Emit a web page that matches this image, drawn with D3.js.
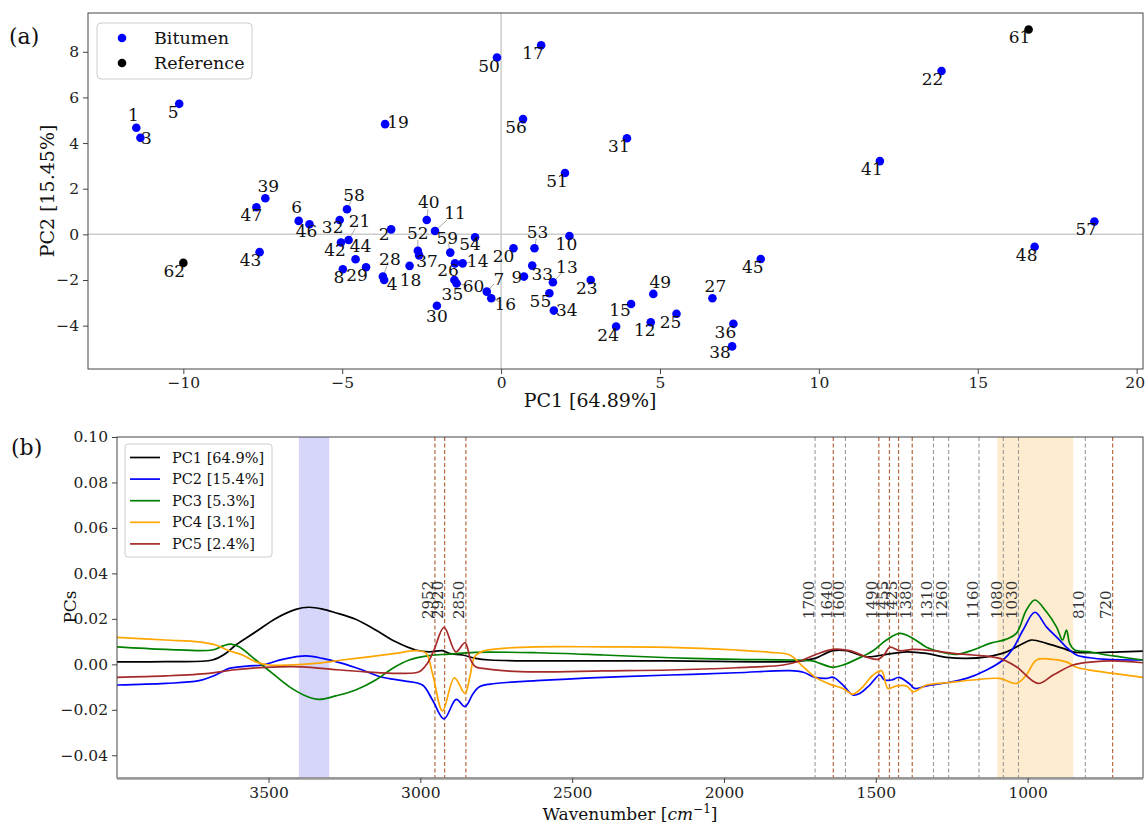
<!DOCTYPE html>
<html><head><meta charset="utf-8">
<script src="https://cdn.jsdelivr.net/npm/d3@7"></script>
<style>body{margin:0;background:#fff}svg{display:block}text{font-family:"DejaVu Serif",serif}</style>
</head><body><svg id="c" width="1145" height="825"></svg>
<script>
// ---------- Panel (a) data: PCA scores ----------
const sampleIds = [1,2,3,4,5,6,7,8,9,10,11,12,13,14,15,16,17,18,19,20,21,22,23,24,25,26,27,28,29,30,31,32,33,34,35,36,37,38,39,40,41,42,43,44,45,46,47,48,49,50,51,52,53,54,55,56,57,58,59,60,61,62];
const pc1Scores = [-11.48,-3.46,-11.35,-3.68,-10.13,-6.37,-0.45,-4.98,0.72,2.15,-2.08,4.71,1.63,-1.21,4.09,-0.31,1.26,-2.88,-3.65,0.39,-4.80,13.86,2.82,3.62,5.52,-1.45,6.65,-3.72,-4.25,-2.02,3.96,-5.08,0.98,1.66,-1.47,7.31,-2.58,7.27,-7.42,-2.34,11.92,-5.04,-7.60,-4.58,8.17,-6.03,-7.70,16.79,4.79,-0.13,2.01,-2.62,1.05,-0.82,1.52,0.69,18.67,-4.85,-1.60,-1.40,16.60,-10.00];
const pc2Scores = [4.67,0.22,4.23,-2.00,5.72,0.59,-2.51,-1.53,-1.85,-0.07,0.15,-3.85,-2.10,-1.27,-3.05,-2.80,8.29,-1.38,4.83,-0.61,-0.25,7.16,-2.00,-4.04,-3.48,-1.27,-2.80,-1.85,-1.44,-3.13,4.21,0.63,-1.37,-3.34,-2.00,-3.92,-0.92,-4.91,1.58,0.63,3.21,-0.36,-0.78,-1.09,-1.08,0.44,1.19,-0.54,-2.61,7.75,2.69,-0.72,-0.61,-0.13,-2.58,5.05,0.56,1.10,-0.80,-2.15,8.98,-1.25];
const groups = sampleIds.map(d => d >= 61 ? "Reference" : "Bitumen");
const groupNames = ["Bitumen","Reference"];
const groupColors = {"Bitumen":"#0000ff","Reference":"#000000"};
// label offsets in px (layout, from adjusted text placement)
const labelOffsets = [[-3,-13],[-7,5],[6,0],[8,4],[-6,8],[-2,-14],[12,-13],[-4,8],[-7,0],[-3,8],[20,-18],[-6,8],[14,-15],[15,-2],[-11,6],[14,6],[-8,8],[1,14],[13,-2],[-10,8],[11,-19],[-9,8],[-4,8],[-8,8],[-6,8],[-7,7],[3,-12],[7,-18],[-9,8],[0,10],[-8,8],[-7,7],[10,8],[13,-1],[-2,14],[-8,8],[8,6],[-12,6],[3,-12],[2,-18],[-8,8],[-6,7],[-9,8],[5,-13],[-8,8],[-3,7],[-5,8],[-8,8],[7,-12],[-8,8],[-8,8],[0,-18],[3,-16],[-5,7],[-9,8],[-7,8],[-8,7],[7,-14],[-3,-15],[17,3],[-9,8],[-9,8]];
const xTicksA = [-10,-5,0,5,10,15,20];
const yTicksA = [-4,-2,0,2,4,6,8];

// ---------- Panel (b) data: loadings [wavenumber, value] ----------
const pcNames = ["PC1 [64.9%]","PC2 [15.4%]","PC3 [5.3%]","PC4 [3.1%]","PC5 [2.4%]"];
const pcColors = ["#000000","#0000ff","#008000","#ffa500","#a52a2a"];
const pc1Load = [[4000,0.0011],[3840,0.0012],[3685,0.0019],[3641,0.0048],[3608,0.0085],[3542,0.0143],[3476,0.0202],[3410,0.0242],[3367,0.0251],[3322,0.0243],[3279,0.0227],[3213,0.0198],[3147,0.0151],[3081,0.0099],[3015,0.0063],[2971,0.0055],[2927,0.0060],[2905,0.0048],[2861,0.0041],[2818,0.0026],[2771,0.0019],[2618,0.0015],[2178,0.0015],[1849,0.0011],[1750,0.0014],[1701,0.0026],[1641,0.0060],[1597,0.0060],[1531,0.0033],[1465,0.0044],[1399,0.0055],[1333,0.0048],[1267,0.0031],[1201,0.0026],[1135,0.0033],[1069,0.0055],[1025,0.0085],[987,0.0107],[938,0.0092],[883,0.0070],[850,0.0055],[784,0.0051],[696,0.0055],[620,0.0058]];
const pc2Load = [[4000,-0.0091],[3839,-0.0084],[3729,-0.0072],[3674,-0.0047],[3630,-0.0018],[3564,-0.0007],[3520,-0.0003],[3454,0.0022],[3377,0.0037],[3322,0.0026],[3257,0.0004],[3191,-0.0025],[3125,-0.0057],[3059,-0.0072],[2993,-0.0091],[2960,-0.0157],[2922,-0.0240],[2882,-0.0154],[2853,-0.0186],[2826,-0.0128],[2804,-0.0098],[2771,-0.0087],[2618,-0.0072],[2398,-0.0057],[2178,-0.0047],[1959,-0.0037],[1783,-0.0028],[1739,-0.0035],[1701,-0.0057],[1662,-0.0062],[1641,-0.0057],[1608,-0.0091],[1575,-0.0135],[1553,-0.0128],[1520,-0.0091],[1487,-0.0047],[1471,-0.0069],[1448,-0.0069],[1423,-0.0057],[1388,-0.0087],[1372,-0.0106],[1333,-0.0095],[1267,-0.0081],[1201,-0.0062],[1135,-0.0025],[1081,0.0019],[1048,0.0070],[1015,0.0151],[976,0.0229],[938,0.0165],[900,0.0114],[872,0.0075],[839,0.0041],[795,0.0029],[740,0.0022],[620,0.0019]];
const pc3Load = [[4000,0.0077],[3839,0.0066],[3685,0.0063],[3652,0.0080],[3624,0.0089],[3597,0.0077],[3542,0.0019],[3487,-0.0040],[3432,-0.0098],[3377,-0.0139],[3334,-0.0154],[3279,-0.0139],[3213,-0.0113],[3147,-0.0069],[3092,-0.0018],[3037,0.0019],[2971,0.0038],[2905,0.0045],[2818,0.0053],[2618,0.0051],[2398,0.0041],[2178,0.0029],[1959,0.0022],[1783,0.0019],[1706,0.0014],[1684,0.0004],[1641,-0.0013],[1608,-0.0003],[1558,0.0026],[1509,0.0060],[1465,0.0107],[1421,0.0136],[1377,0.0114],[1333,0.0075],[1289,0.0055],[1234,0.0044],[1180,0.0063],[1124,0.0092],[1069,0.0111],[1037,0.0136],[1004,0.0239],[976,0.0283],[938,0.0231],[905,0.0165],[885,0.0107],[872,0.0151],[861,0.0090],[845,0.0063],[795,0.0055],[740,0.0041],[696,0.0033],[620,0.0019]];
const pc4Load = [[4000,0.0119],[3839,0.0107],[3729,0.0099],[3674,0.0085],[3630,0.0060],[3586,0.0041],[3542,0.0011],[3498,-0.0003],[3432,-0.0003],[3345,0.0004],[3257,0.0019],[3169,0.0033],[3081,0.0048],[3015,0.0060],[2982,0.0050],[2960,-0.0040],[2927,-0.0205],[2888,-0.0060],[2853,-0.0128],[2837,-0.0055],[2821,0.0033],[2794,0.0058],[2728,0.0070],[2618,0.0077],[2398,0.0077],[2178,0.0075],[1959,0.0063],[1849,0.0053],[1783,0.0041],[1745,-0.0003],[1701,-0.0055],[1652,-0.0087],[1608,-0.0106],[1575,-0.0131],[1542,-0.0098],[1509,-0.0047],[1481,-0.0028],[1460,-0.0106],[1432,-0.0095],[1399,-0.0095],[1377,-0.0120],[1333,-0.0091],[1267,-0.0081],[1180,-0.0069],[1092,-0.0062],[1037,-0.0084],[1004,-0.0047],[971,0.0019],[916,0.0022],[872,0.0011],[839,-0.0013],[784,-0.0028],[718,-0.0040],[620,-0.0057]];
const pc5Load = [[4000,-0.0057],[3839,-0.0051],[3696,-0.0040],[3619,-0.0025],[3509,-0.0013],[3388,-0.0011],[3290,-0.0022],[3180,-0.0033],[3070,-0.0040],[3004,-0.0033],[2977,0.0004],[2955,0.0063],[2922,0.0163],[2883,0.0055],[2853,0.0095],[2834,0.0019],[2818,-0.0011],[2794,-0.0018],[2728,-0.0028],[2618,-0.0033],[2398,-0.0029],[2178,-0.0025],[1959,-0.0015],[1805,-0.0003],[1745,0.0017],[1701,0.0041],[1641,0.0066],[1586,0.0060],[1531,0.0033],[1493,0.0022],[1471,0.0045],[1454,0.0075],[1421,0.0060],[1377,0.0066],[1311,0.0060],[1245,0.0048],[1180,0.0041],[1092,0.0026],[1037,-0.0011],[966,-0.0084],[916,-0.0047],[850,-0.0003],[784,0.0011],[718,0.0015],[620,0.0007]];
const loadings = [pc1Load,pc2Load,pc3Load,pc4Load,pc5Load];
const brownLines = [2952,2920,2850,1640,1490,1455,1425,1380,720];
const grayLines = [1700,1600,1310,1260,1160,1080,1030,810];
const blueBand = [3400,3300];
const orangeBand = [1100,850];
const xTicksB = [3500,3000,2500,2000,1500,1000];
const yTicksB = [-0.04,-0.02,0.00,0.02,0.04,0.06,0.08,0.10];

const minus = s => String(s).replace("-", "\u2212");
const svg = d3.select("#c");

// ================= Panel (a) =================
const xA = d3.scaleLinear().domain([-13,20.2]).range([88,1143]);
const yA = d3.scaleLinear().domain([-5.9,9.7]).range([369,13]);
const gA = svg.append("g");
gA.append("line").attr("x1",xA(0)).attr("x2",xA(0)).attr("y1",yA(-5.9)).attr("y2",yA(9.7)).attr("stroke","#cccccc").attr("stroke-width",1.5);
gA.append("line").attr("x1",xA(-13)).attr("x2",xA(20.2)).attr("y1",yA(0)).attr("y2",yA(0)).attr("stroke","#cccccc").attr("stroke-width",1.5);

const ptsA = sampleIds.map((id,i)=>({id, x:pc1Scores[i], y:pc2Scores[i], g:groups[i], off:labelOffsets[i]}));
gA.selectAll(".leader").data(ptsA.filter(d=>Math.hypot(d.off[0],d.off[1])>14.5)).join("line")
  .attr("x1",d=>xA(d.x)).attr("y1",d=>yA(d.y))
  .attr("x2",d=>xA(d.x)+d.off[0]*0.6).attr("y2",d=>yA(d.y)+d.off[1]*0.6)
  .attr("stroke","#aaaaaa").attr("stroke-width",1);
gA.selectAll(".pt").data(ptsA).join("circle")
  .attr("cx",d=>xA(d.x)).attr("cy",d=>yA(d.y)).attr("r",4.3)
  .attr("fill",d=>groupColors[d.g]);
gA.selectAll(".lbl").data(ptsA).join("text")
  .attr("x",d=>xA(d.x)+d.off[0]).attr("y",d=>yA(d.y)+d.off[1])
  .attr("text-anchor","middle").attr("dominant-baseline","central")
  .attr("font-size",17).attr("fill","#111").text(d=>d.id);

gA.append("rect").attr("x",88).attr("y",13).attr("width",1143-88).attr("height",369-13)
  .attr("fill","none").attr("stroke","#444").attr("stroke-width",1);
const axXA = gA.append("g").attr("transform","translate(0,369)")
  .call(d3.axisBottom(xA).tickValues(xTicksA).tickFormat(d=>minus(d)).tickSize(5).tickSizeOuter(0).tickPadding(3));
const axYA = gA.append("g").attr("transform","translate(88,0)")
  .call(d3.axisLeft(yA).tickValues(yTicksA).tickFormat(d=>minus(d)).tickSize(5).tickSizeOuter(0).tickPadding(4));
[axXA,axYA].forEach(a=>{a.select(".domain").remove();a.selectAll("line").attr("stroke","#444");
  a.selectAll("text").attr("font-family",'"DejaVu Serif",serif').attr("font-size",15.5).attr("fill","#222");});
axXA.selectAll(".tick").filter(d=>d===20).select("text").attr("dx",-2);
gA.append("text").attr("x",590).attr("y",407).attr("text-anchor","middle").attr("font-size",19).attr("fill","#111").text("PC1 [64.89%]");
gA.append("text").attr("transform","translate(54,191) rotate(-90)").attr("text-anchor","middle").attr("font-size",19).attr("fill","#111").text("PC2 [15.45%]");
const legA = gA.append("g");
legA.append("rect").attr("x",97).attr("y",23).attr("width",155).attr("height",56).attr("rx",4)
  .attr("fill","white").attr("fill-opacity",0.85).attr("stroke","#cccccc");
groupNames.forEach((g,i)=>{
  legA.append("circle").attr("cx",122).attr("cy",38+i*25).attr("r",4.3).attr("fill",groupColors[g]);
  legA.append("text").attr("x",154).attr("y",38+i*25).attr("dominant-baseline","central").attr("font-size",17.5).attr("fill","#111").text(g);
});
svg.append("text").attr("x",9).attr("y",44).attr("font-size",22).attr("fill","#111").text("(a)");

// ================= Panel (b) =================
const xB = d3.scaleLinear().domain([3999,620]).range([117,1143]);
const yB = d3.scaleLinear().domain([-0.05,0.10]).range([778,437]);
const gB = svg.append("g");
svg.append("defs").append("clipPath").attr("id","clipB").append("rect")
  .attr("x",117).attr("y",437).attr("width",1143-117).attr("height",778-437);
const inner = gB.append("g").attr("clip-path","url(#clipB)");
inner.append("rect").attr("x",xB(blueBand[0])).attr("width",xB(blueBand[1])-xB(blueBand[0]))
  .attr("y",437).attr("height",341).attr("fill","#d6d6fb");
inner.append("rect").attr("x",xB(orangeBand[0])).attr("width",xB(orangeBand[1])-xB(orangeBand[0]))
  .attr("y",437).attr("height",341).attr("fill","#fdeccf");
inner.selectAll(".gl").data(grayLines).join("line")
  .attr("x1",d=>xB(d)).attr("x2",d=>xB(d)).attr("y1",437).attr("y2",778)
  .attr("stroke","#999999").attr("stroke-width",1.1).attr("stroke-dasharray","4,2.5");
inner.selectAll(".bl").data(brownLines).join("line")
  .attr("x1",d=>xB(d)).attr("x2",d=>xB(d)).attr("y1",437).attr("y2",778)
  .attr("stroke","#b5683c").attr("stroke-width",1.2).attr("stroke-dasharray","4,2.5");
const line = d3.line().x(d=>xB(d[0])).y(d=>yB(d[1])).curve(d3.curveCatmullRom.alpha(0.5));
inner.selectAll(".pc").data(loadings).join("path")
  .attr("d",d=>line(d)).attr("fill","none").attr("stroke",(d,i)=>pcColors[i]).attr("stroke-width",1.7);
gB.selectAll(".vl").data(brownLines.concat(grayLines)).join("text")
  .attr("transform",d=>`translate(${xB(d)-1.5},619) rotate(-90)`)
  .attr("font-size",15).attr("fill","#333").text(d=>d);
gB.append("rect").attr("x",117).attr("y",437).attr("width",1143-117).attr("height",341)
  .attr("fill","none").attr("stroke","#444").attr("stroke-width",1);
gB.append("line").attr("x1",117).attr("x2",1143).attr("y1",778.5).attr("y2",778.5).attr("stroke","#999").attr("stroke-width",2.5);
const axXB = gB.append("g").attr("transform","translate(0,778)")
  .call(d3.axisBottom(xB).tickValues(xTicksB).tickFormat(d3.format("d")).tickSize(5).tickSizeOuter(0).tickPadding(4));
const axYB = gB.append("g").attr("transform","translate(117,0)")
  .call(d3.axisLeft(yB).tickValues(yTicksB).tickFormat(d=>minus(d3.format(".2f")(d))).tickSize(5).tickSizeOuter(0).tickPadding(4));
[axXB,axYB].forEach(a=>{a.select(".domain").remove();a.selectAll("line").attr("stroke","#444");
  a.selectAll("text").attr("font-family",'"DejaVu Serif",serif').attr("font-size",15.5).attr("fill","#222");});
const xl = gB.append("text").attr("x",630).attr("y",820).attr("text-anchor","middle").attr("font-size",17).attr("fill","#111");
xl.append("tspan").text("Wavenumber [");
xl.append("tspan").attr("font-style","italic").text("cm");
xl.append("tspan").attr("font-size",12).attr("dy",-7).text("\u22121");
xl.append("tspan").attr("dy",7).text("]");
gB.append("text").attr("transform","translate(76,607) rotate(-90)").attr("text-anchor","middle").attr("font-size",17).attr("fill","#111").text("PCs");
const legB = gB.append("g");
legB.append("rect").attr("x",125).attr("y",444).attr("width",147).attr("height",113).attr("rx",3)
  .attr("fill","white").attr("fill-opacity",0.85).attr("stroke","#cccccc");
pcNames.forEach((n,i)=>{
  const yy = 457.5 + i*21.6;
  legB.append("line").attr("x1",130).attr("x2",160).attr("y1",yy).attr("y2",yy).attr("stroke",pcColors[i]).attr("stroke-width",1.7);
  legB.append("text").attr("x",172).attr("y",yy).attr("dominant-baseline","central").attr("font-size",14.5).attr("fill","#111").text(n);
});
svg.append("text").attr("x",11).attr("y",455).attr("font-size",22).attr("fill","#111").text("(b)");
</script></body></html>
